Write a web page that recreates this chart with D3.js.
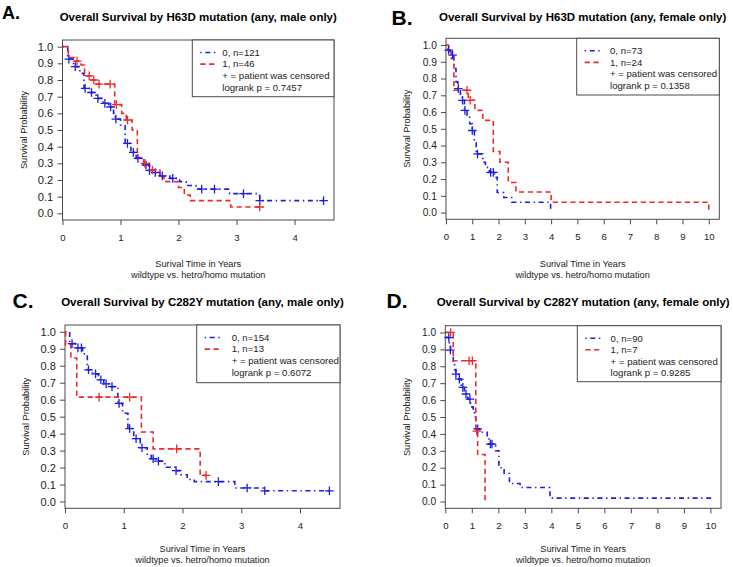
<!DOCTYPE html>
<html><head><meta charset="utf-8">
<script src="https://cdn.jsdelivr.net/npm/d3@7"></script>
<style>
body{margin:0;background:#fff}
svg{display:block}
text{font-family:"Liberation Sans",Arial,Helvetica,sans-serif}
</style>
</head><body>
<svg id="chart" width="733" height="567"></svg>
<script>
// ---------- DATA ----------
const yTickValues = [0, 0.1, 0.2, 0.3, 0.4, 0.5, 0.6, 0.7, 0.8, 0.9, 1.0];
const xTicksShort = [0, 1, 2, 3, 4];
const xTicksLong  = [0, 1, 2, 3, 4, 5, 6, 7, 8, 9, 10];

const panelLetters = ["A.", "B.", "C.", "D."];
const panelTitles = [
  "Overall Survival by H63D mutation (any, male only)",
  "Overall Survival by H63D mutation (any, female only)",
  "Overall Survival by C282Y mutation (any, male only)",
  "Overall Survival by C282Y mutation (any, female only)"
];
const xTitle1 = "Surival Time in Years";
const xTitle2 = "wildtype vs. hetro/homo mutation";
const yTitle = "Survival Probability";
const censorNote = "+ = patient was censored";

const legendA = ["0, n=121", "1, n=46", "logrank p = 0.7457"];
const legendB = ["0, n=73", "1, n=24", "logrank p = 0.1358"];
const legendC = ["0, n=154", "1, n=13", "logrank p = 0.6072"];
const legendD = ["0, n=90", "1, n=7", "logrank p = 0.9285"];

// step curves: [time in years, survival probability from that time on]
const stepsA0 = [[0,1],[0.09,0.925],[0.19,0.88],[0.3,0.84],[0.37,0.75],[0.48,0.725],[0.58,0.69],[0.7,0.66],[0.8,0.638],[0.88,0.6],[0.91,0.565],[1.0,0.53],[1.08,0.42],[1.18,0.366],[1.27,0.33],[1.4,0.29],[1.48,0.258],[1.56,0.245],[1.68,0.225],[1.85,0.21],[2.02,0.19],[2.13,0.167],[2.3,0.145],[2.88,0.118],[3.4,0.076],[4.5,0.076]];
const censorA0 = [[0.11,0.925],[0.22,0.88],[0.39,0.75],[0.5,0.725],[0.61,0.69],[0.73,0.66],[0.83,0.638],[0.92,0.565],[1.12,0.42],[1.22,0.366],[1.3,0.33],[1.44,0.29],[1.5,0.258],[1.6,0.245],[1.72,0.225],[1.9,0.21],[2.4,0.145],[2.62,0.145],[3.12,0.118],[3.4,0.076],[4.5,0.076]];
const stepsA1 = [[0,1],[0.1,0.935],[0.2,0.913],[0.32,0.89],[0.38,0.825],[0.5,0.8],[0.58,0.775],[0.9,0.652],[1.02,0.6],[1.1,0.56],[1.2,0.5],[1.29,0.335],[1.4,0.3],[1.5,0.26],[1.68,0.22],[1.75,0.19],[2.0,0.155],[2.1,0.11],[2.2,0.076],[2.9,0.038],[3.4,0.038]];
const censorA1 = [[0.25,0.913],[0.46,0.825],[0.54,0.8],[0.63,0.775],[0.82,0.775],[0.93,0.652],[1.12,0.56],[1.42,0.3],[1.55,0.26],[3.4,0.038]];

const stepsB0 = [[0,1],[0.08,0.97],[0.2,0.94],[0.3,0.86],[0.38,0.78],[0.45,0.74],[0.55,0.7],[0.62,0.67],[0.7,0.61],[0.8,0.58],[0.9,0.53],[1.0,0.49],[1.08,0.43],[1.15,0.35],[1.4,0.3],[1.5,0.27],[1.65,0.24],[1.85,0.21],[1.95,0.12],[2.2,0.09],[2.5,0.062],[3.98,0]];
const censorB0 = [[0.1,0.97],[0.25,0.94],[0.47,0.74],[0.63,0.67],[0.72,0.61],[1.0,0.49],[1.2,0.35],[1.7,0.24],[1.8,0.24]];
const stepsB1 = [[0,1],[0.1,0.96],[0.2,0.92],[0.3,0.73],[0.85,0.67],[1.1,0.61],[1.4,0.55],[1.8,0.365],[2.05,0.30],[2.37,0.18],[2.66,0.123],[4.0,0.062],[10,0]];
const censorB1 = [[0.8,0.73],[0.92,0.67]];

const stepsC0 = [[0,1],[0.08,0.93],[0.18,0.905],[0.3,0.87],[0.38,0.776],[0.47,0.752],[0.57,0.717],[0.66,0.693],[0.75,0.677],[0.9,0.578],[0.98,0.52],[1.07,0.43],[1.17,0.37],[1.28,0.317],[1.4,0.271],[1.47,0.252],[1.55,0.238],[1.7,0.202],[1.87,0.182],[1.97,0.158],[2.08,0.13],[2.2,0.117],[2.89,0.08],[3.37,0.063],[4.5,0.063]];
const censorC0 = [[0.12,0.93],[0.22,0.905],[0.28,0.905],[0.4,0.776],[0.52,0.752],[0.61,0.717],[0.7,0.693],[0.8,0.677],[0.92,0.578],[1.1,0.43],[1.21,0.37],[1.31,0.317],[1.5,0.252],[1.59,0.238],[1.89,0.182],[2.61,0.117],[3.1,0.08],[3.4,0.063],[4.5,0.063]];
const stepsC1 = [[0,1],[0.01,0.923],[0.1,0.846],[0.2,0.615],[1.3,0.41],[1.5,0.31],[2.3,0.154],[2.4,0.154]];
const censorC1 = [[0.58,0.615],[1.1,0.615],[1.9,0.31],[2.4,0.154]];

const stepsD0 = [[0,1],[0.05,0.97],[0.15,0.94],[0.2,0.896],[0.3,0.83],[0.35,0.78],[0.4,0.754],[0.5,0.724],[0.6,0.675],[0.72,0.636],[0.85,0.606],[0.95,0.56],[1.05,0.53],[1.1,0.5],[1.15,0.45],[1.2,0.43],[1.3,0.41],[1.58,0.38],[1.65,0.34],[1.9,0.3],[2.02,0.2],[2.22,0.166],[2.42,0.107],[2.82,0.083],[3.95,0.02],[10,0]];
const censorD0 = [[0.13,0.97],[0.19,0.896],[0.4,0.754],[0.53,0.724],[0.66,0.675],[0.78,0.636],[0.93,0.606],[1.22,0.43],[1.7,0.34],[1.76,0.34]];
const stepsD1 = [[0,1],[0.3,0.833],[1.15,0.417],[1.22,0.278],[1.5,0]];
const censorD1 = [[0.2,1],[0.9,0.833],[1.02,0.833],[1.19,0.417]];

// ---------- LAYOUT ----------
const panels = [
  {letter:panelLetters[0], title:panelTitles[0], steps:[stepsA0,stepsA1], censor:[censorA0,censorA1], legend:legendA,
   xTicks:xTicksShort, xMax:4.68, box:{l:62.5,r:334,t:40,b:220}, letterPos:[2,19,18], titleY:21,
   leg:{x:192.3,y:40,w:141.7,h:56.7,tx:30}, yTickFont:11.2, yTitleX:24, xt:[43.3,55]},
  {letter:panelLetters[1], title:panelTitles[1], steps:[stepsB0,stepsB1], censor:[censorB0,censorB1], legend:legendB,
   xTicks:xTicksLong, xMax:10.4, box:{l:446,r:719.3,t:38.3,b:219.3}, letterPos:[391.5,25,21], titleY:20.5,
   leg:{x:576.7,y:38.3,w:142.6,h:56.7,tx:33.3}, yTickFont:10.2, yTitleX:407, xt:[44,55.7]},
  {letter:panelLetters[2], title:panelTitles[2], steps:[stepsC0,stepsC1], censor:[censorC0,censorC1], legend:legendC,
   xTicks:xTicksShort, xMax:4.68, box:{l:65,r:340,t:325,b:508.3}, letterPos:[12.5,308,21], titleY:306,
   leg:{x:196.7,y:325,w:143.3,h:57.7,tx:35}, yTickFont:11, yTitleX:26, xt:[40,51.7]},
  {letter:panelLetters[3], title:panelTitles[3], steps:[stepsD0,stepsD1], censor:[censorD0,censorD1], legend:legendD,
   xTicks:xTicksLong, xMax:10.4, box:{l:445.3,r:721,t:325.7,b:508.3}, letterPos:[386.5,308,21], titleY:306,
   leg:{x:577.3,y:325.7,w:143.7,h:56,tx:33.3}, yTickFont:10.2, yTitleX:407, xt:[40,51.7]}
];

const colors = ["#1c1ce6", "#ee2a2a"];
const dashes = ["1.4,3.6,5,3.6", "5.2,3.6"];
const lineCol = "#4a4a4a";
const textCol = "#222";

const svg = d3.select("#chart");

panels.forEach(p => {
  const g = svg.append("g");
  const x = d3.scaleLinear().domain([0, p.xMax]).range([p.box.l, p.box.r]);
  const y = d3.scaleLinear().domain([-0.04, 1.04]).range([p.box.b, p.box.t]);

  g.append("text").attr("x", p.letterPos[0]).attr("y", p.letterPos[1])
    .attr("font-size", p.letterPos[2]).attr("font-weight", "bold").attr("fill", "#000").text(p.letter);
  g.append("text").attr("x", (p.box.l + p.box.r) / 2).attr("y", p.titleY)
    .attr("text-anchor", "middle").attr("font-size", 11.5).attr("font-weight", "bold").attr("fill", "#000").text(p.title);

  const xa = g.append("g").attr("transform", `translate(0,${p.box.b})`)
    .call(d3.axisBottom(x).tickValues(p.xTicks).tickSize(5).tickFormat(d3.format("d")));
  xa.select(".domain").remove();
  xa.selectAll(".tick line").attr("stroke", lineCol);
  xa.selectAll(".tick text").attr("y", 21).attr("dy", 0).attr("font-size", 9.6).attr("fill", textCol)
    .attr("font-family", "'Liberation Sans',Arial,sans-serif");

  const ya = g.append("g").attr("transform", `translate(${p.box.l},0)`)
    .call(d3.axisLeft(y).tickValues(yTickValues).tickSize(5).tickPadding(4.2).tickFormat(d3.format(".1f")));
  ya.select(".domain").remove();
  ya.selectAll(".tick line").attr("stroke", lineCol);
  ya.selectAll(".tick text").attr("font-size", p.yTickFont).attr("fill", textCol)
    .attr("font-family", "'Liberation Sans',Arial,sans-serif");

  g.append("rect").attr("x", p.box.l).attr("y", p.box.t)
    .attr("width", p.box.r - p.box.l).attr("height", p.box.b - p.box.t)
    .attr("fill", "none").attr("stroke", lineCol).attr("stroke-width", 1);

  const cx = (p.box.l + p.box.r) / 2;
  g.append("text").attr("x", cx).attr("y", p.box.b + p.xt[0] + 3.3).attr("text-anchor", "middle")
    .attr("font-size", 9.2).attr("fill", textCol).text(xTitle1);
  g.append("text").attr("x", cx).attr("y", p.box.b + p.xt[1] + 3.3).attr("text-anchor", "middle")
    .attr("font-size", 9.2).attr("fill", textCol).text(xTitle2);
  const cy = (p.box.t + p.box.b) / 2;
  g.append("text").attr("transform", `translate(${p.yTitleX + 3.2},${cy}) rotate(-90)`)
    .attr("text-anchor", "middle").attr("font-size", 9.2).attr("fill", textCol).text(yTitle);

  const line = d3.line().x(d => x(d[0])).y(d => y(d[1])).curve(d3.curveStepAfter);
  p.steps.forEach((s, i) => {
    g.append("path").attr("d", line(s)).attr("fill", "none")
      .attr("stroke", colors[i]).attr("stroke-width", 1.6).attr("stroke-dasharray", dashes[i]);
  });
  p.censor.forEach((c, i) => {
    g.selectAll(null).data(c).enter().append("path")
      .attr("d", d => `M${x(d[0]) - 4.3},${y(d[1])}H${x(d[0]) + 4.3}M${x(d[0])},${y(d[1]) - 4.3}V${y(d[1]) + 4.3}`)
      .attr("stroke", colors[i]).attr("stroke-width", 1.3).attr("fill", "none");
  });

  const L = p.leg;
  g.append("rect").attr("x", L.x).attr("y", L.y).attr("width", L.w).attr("height", L.h)
    .attr("fill", "#fff").attr("stroke", lineCol);
  const rows = [p.legend[0], p.legend[1], censorNote, p.legend[2]];
  rows.forEach((t, i) => {
    const by = L.y + 15.8 + i * 11.6;
    g.append("text").attr("x", L.x + L.tx).attr("y", by).attr("font-size", 9.6).attr("fill", textCol).text(t);
    if (i < 2) {
      g.append("line").attr("x1", L.x + 8).attr("x2", L.x + 24).attr("y1", by - 3.3).attr("y2", by - 3.3)
        .attr("stroke", colors[i]).attr("stroke-width", 1.6).attr("stroke-dasharray", dashes[i]);
    }
  });
});
</script>
</body></html>
